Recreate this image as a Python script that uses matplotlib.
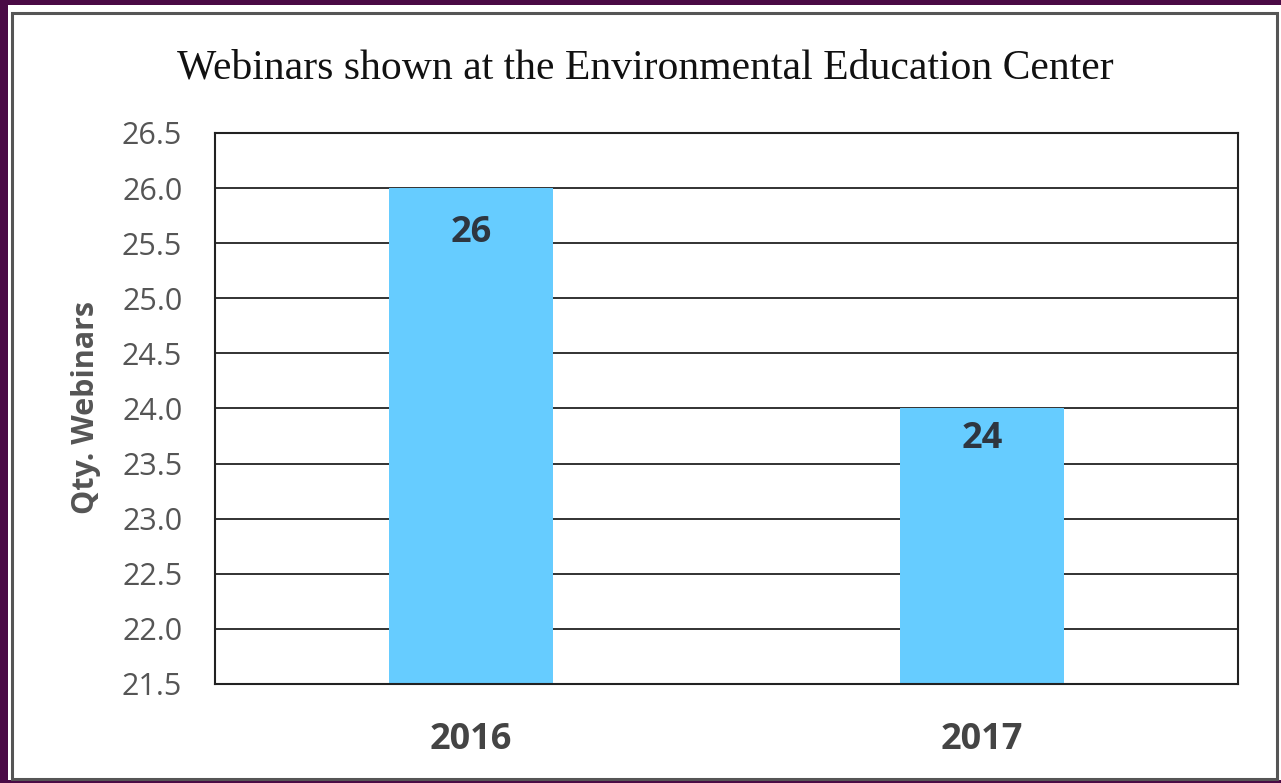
import matplotlib
matplotlib.use("Agg")
import matplotlib.pyplot as plt
from matplotlib.patches import Rectangle

years = ["2016", "2017"]
webinars = [26, 24]
yticks = [21.5, 22.0, 22.5, 23.0, 23.5, 24.0, 24.5, 25.0, 25.5, 26.0, 26.5]

# layout: label offsets below bar top (pixels)
label_offsets = [-45, -31]

W, H = 1281, 783
fig = plt.figure(figsize=(W/100, H/100), dpi=100)
fig.patch.set_facecolor("white")

def px_rect(x0, y0, x1, y1, **kw):
    return Rectangle((x0/W, 1-y1/H), (x1-x0)/W, (y1-y0)/H,
                     transform=fig.transFigure, **kw)

purple = "#4a0a45"
fig.add_artist(px_rect(0, 0, 8, H, facecolor=purple, edgecolor="none"))
fig.add_artist(px_rect(0, 0, W, 5, facecolor=purple, edgecolor="none"))
fig.add_artist(px_rect(0, 780, W, H, facecolor=purple, edgecolor="none"))
fig.add_artist(px_rect(12, 13, 1277, 779, fill=False, edgecolor="#555555",
                       linewidth=2.2))

ax = fig.add_axes([215/W, 1-684/H, (1238-215)/W, (684-133)/H])
x = range(len(years))
bars = ax.bar(x, webinars, width=0.32, color="#66ccff", zorder=2)
ax.set_xlim(-0.5, 1.5)
ax.set_ylim(21.5, 26.5)
ax.set_yticks(yticks)
ax.set_yticklabels([f"{v:.1f}" for v in yticks], fontfamily="Open Sans",
                   fontsize=22, color="#555555")
ax.set_xticks(list(x))
ax.set_xticklabels(years, fontfamily="Open Sans", fontweight="bold",
                   fontsize=26, color="#444444")
ax.tick_params(axis="both", length=0)
ax.tick_params(axis="y", pad=23.5)
ax.tick_params(axis="x", pad=27.5)
ax.grid(axis="y", color="#222222", linewidth=1.3, zorder=1)
ax.set_axisbelow(True)
for s in ax.spines.values():
    s.set_color("#222222")
    s.set_linewidth(1.5)

for b, v, off in zip(bars, webinars, label_offsets):
    ax.annotate(str(v), (b.get_x() + b.get_width()/2, v), xytext=(0, off),
                textcoords="offset pixels", ha="center", va="center",
                fontfamily="Open Sans", fontweight="bold", fontsize=26,
                color="#2e3640", zorder=3)

fig.text(86/W, 1-407/H, "Qty. Webinars", rotation=90, ha="center", va="center",
         fontfamily="Open Sans", fontweight="bold", fontsize=22, color="#555555")

fig.text(645/W, 1-68/H, "Webinars shown at the Environmental Education Center",
         ha="center", va="center", fontfamily="Liberation Serif", fontsize=30,
         color="#111111")

fig.savefig("out.png", dpi=100)
